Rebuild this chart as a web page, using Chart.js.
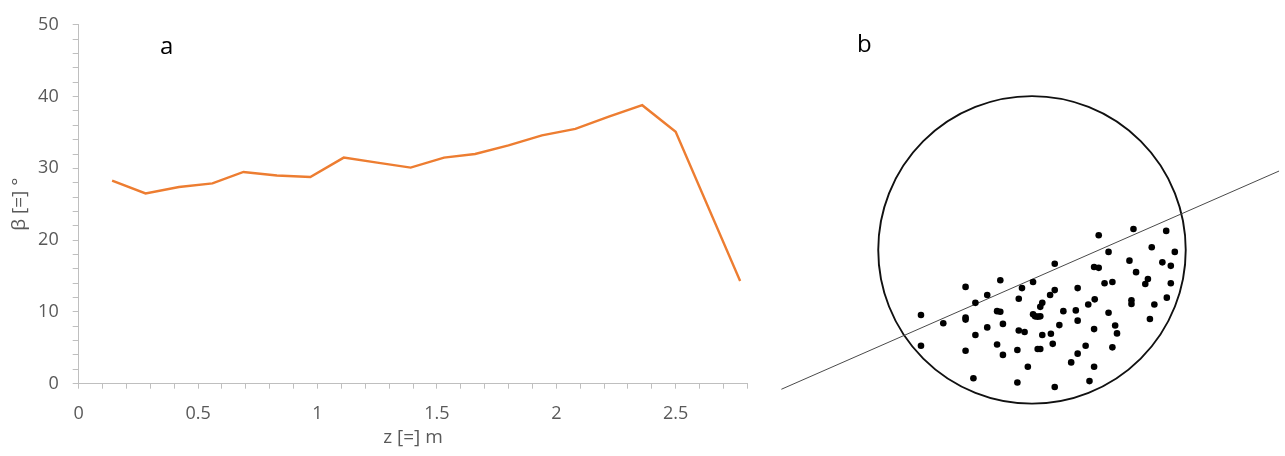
<!DOCTYPE html>
<html>
<head>
<meta charset="utf-8">
<script src="https://cdn.jsdelivr.net/npm/chart.js@4.4.1/dist/chart.umd.min.js"></script>
<style>
  html, body { margin: 0; padding: 0; background: #ffffff; }
  body { width: 1285px; height: 456px; position: relative; overflow: hidden; font-family: "Open Sans", sans-serif; }
  #left { position: absolute; left: 0; top: 0; }
  #right { position: absolute; left: 777px; top: 0; }
  .panel-label { position: absolute; font-family: "Open Sans", sans-serif; font-size: 24px; color: #000; line-height: 1; }
</style>
</head>
<body>
<canvas id="left" width="778" height="456"></canvas>
<canvas id="right" width="508" height="456"></canvas>
<div class="panel-label" style="left:160px; top:33px;">a</div>
<div class="panel-label" style="left:857px; top:31px;">b</div>
<script>
// ---------- Panel a: beta vs depth ----------
const depthZ = [0.14, 0.28, 0.42, 0.56, 0.69, 0.83, 0.97, 1.11, 1.25, 1.39, 1.53, 1.66, 1.80, 1.94, 2.08, 2.22, 2.36, 2.50, 2.77];
const betaDeg = [28.3, 26.5, 27.4, 27.9, 29.5, 29.0, 28.8, 31.5, 30.8, 30.1, 31.5, 32.0, 33.2, 34.6, 35.5, 37.2, 38.8, 35.1, 14.3];
const xTickLabels = ["0", "0.5", "1", "1.5", "2", "2.5"];
const yTickLabels = ["0", "10", "20", "30", "40", "50"];

// ---------- Panel b: stereonet (unit-circle coordinates) ----------
const poleU = [-0.722,-0.722,-0.577,-0.432,-0.432,-0.432,-0.432,-0.381,-0.368,-0.368,-0.291,-0.291,-0.227,-0.206,-0.227,-0.206,-0.189,-0.189,-0.095,-0.095,
               -0.086,-0.086,-0.065,-0.048,-0.027,0.007,0.007,0.020,0.037,0.054,0.054,0.067,0.037,0.054,0.067,0.118,0.148,0.148,0.123,0.135,
               0.148,0.178,0.204,0.255,0.285,0.297,0.297,0.297,0.349,0.366,0.374,0.404,0.434,0.408,0.404,0.404,0.434,0.472,0.498,0.498,
               0.523,0.523,0.541,0.553,0.634,0.647,0.647,0.660,0.677,0.737,0.754,0.767,0.779,0.796,0.848,0.873,0.877,0.903,0.903,0.929];
const poleV = [-0.424,-0.625,-0.478,-0.241,-0.441,-0.454,-0.657,-0.836,-0.345,-0.554,-0.294,-0.505,-0.399,-0.403,-0.616,-0.198,-0.482,-0.684,-0.652,-0.864,
               -0.318,-0.525,-0.249,-0.535,-0.761,-0.209,-0.420,-0.433,-0.435,-0.433,-0.371,-0.345,-0.646,-0.646,-0.554,-0.294,-0.262,-0.090,-0.546,-0.612,
               -0.893,-0.490,-0.399,-0.733,-0.394,-0.249,-0.461,-0.676,-0.625,-0.356,-0.855,-0.111,-0.117,-0.322,-0.516,-0.761,0.096,-0.217,-0.013,-0.409,
               -0.209,-0.635,-0.493,-0.544,-0.070,-0.328,-0.352,0.136,-0.145,-0.222,-0.190,-0.450,0.017,-0.356,-0.081,0.124,-0.311,-0.104,-0.217,-0.013];
const traceU = [-1.630, 1.607];
const traceV = [-0.908, 0.514];
const netCenter = [0, 0];
const netRadius = 1;

const tickFont = { family: "Open Sans", size: 18 };
const titleFont = { family: "Open Sans", size: 19 };
const grey = "#595959";
const axisGrey = "#BFBFBF";

new Chart(document.getElementById("left"), {
  type: "line",
  data: {
    datasets: [{
      data: depthZ.map((z, i) => ({ x: z, y: betaDeg[i] })),
      borderColor: "#ED7D31",
      borderWidth: 2.4,
      pointRadius: 0,
      tension: 0,
      fill: false
    }]
  },
  options: {
    responsive: false,
    animation: false,
    events: [],
    layout: { padding: { left: 0, right: 30.7, top: 22, bottom: 0 } },
    plugins: { legend: { display: false }, tooltip: { enabled: false } },
    scales: {
      x: {
        type: "linear",
        min: 0, max: 2.8,
        afterFit: s => { s.height = 72.3; },
        ticks: {
          stepSize: 0.1, autoSkip: false, maxRotation: 0, color: grey, font: tickFont, padding: 14,
          callback: v => { const t = Math.round(v * 10); return t % 5 === 0 ? xTickLabels[t / 5] : ""; }
        },
        grid: { drawOnChartArea: false, drawTicks: true, tickLength: 5, color: axisGrey },
        border: { display: true, color: axisGrey, width: 1 },
        title: { display: true, text: "z [=] m", color: grey, font: titleFont, padding: { top: 0, bottom: 7 } }
      },
      y: {
        min: 0, max: 50,
        afterFit: s => { s.width = 78.7; },
        ticks: {
          stepSize: 2, autoSkip: false, color: grey, font: tickFont, padding: 14,
          callback: v => { const t = Math.round(v); return t % 10 === 0 ? yTickLabels[t / 10] : ""; }
        },
        grid: { drawOnChartArea: false, drawTicks: true, tickLength: 6, color: axisGrey },
        border: { display: true, color: axisGrey, width: 1 },
        title: { display: true, text: "β [=] °", color: grey, font: titleFont, padding: { top: 8, bottom: 0 } }
      }
    }
  }
});

const netCircle = {
  id: "netCircle",
  beforeDatasetsDraw(chart) {
    const xs = chart.scales.x, ys = chart.scales.y, ctx = chart.ctx;
    const cx = xs.getPixelForValue(netCenter[0]);
    const cy = ys.getPixelForValue(netCenter[1]);
    const r = xs.getPixelForValue(netCenter[0] + netRadius) - cx;
    ctx.save();
    ctx.beginPath();
    ctx.arc(cx, cy, r, 0, Math.PI * 2);
    ctx.lineWidth = 1.9;
    ctx.strokeStyle = "#111";
    ctx.stroke();
    ctx.restore();
  }
};

new Chart(document.getElementById("right"), {
  type: "scatter",
  data: {
    datasets: [
      {
        type: "line",
        data: traceU.map((u, i) => ({ x: u, y: traceV[i] })),
        borderColor: "#4a4a4a",
        borderWidth: 1,
        pointRadius: 0,
        showLine: true,
        fill: false,
        order: 2
      },
      {
        data: poleU.map((u, i) => ({ x: u, y: poleV[i] })),
        backgroundColor: "#000000",
        borderWidth: 0,
        pointRadius: 3.3,
        order: 1
      }
    ]
  },
  options: {
    responsive: false,
    animation: false,
    events: [],
    layout: { padding: 0 },
    plugins: { legend: { display: false }, tooltip: { enabled: false } },
    scales: {
      x: { type: "linear", display: false, min: -1.6325, max: 1.6197 },
      y: { type: "linear", display: false, min: -1.3169, max: 1.6025 }
    }
  },
  plugins: [netCircle]
});
</script>
</body>
</html>
